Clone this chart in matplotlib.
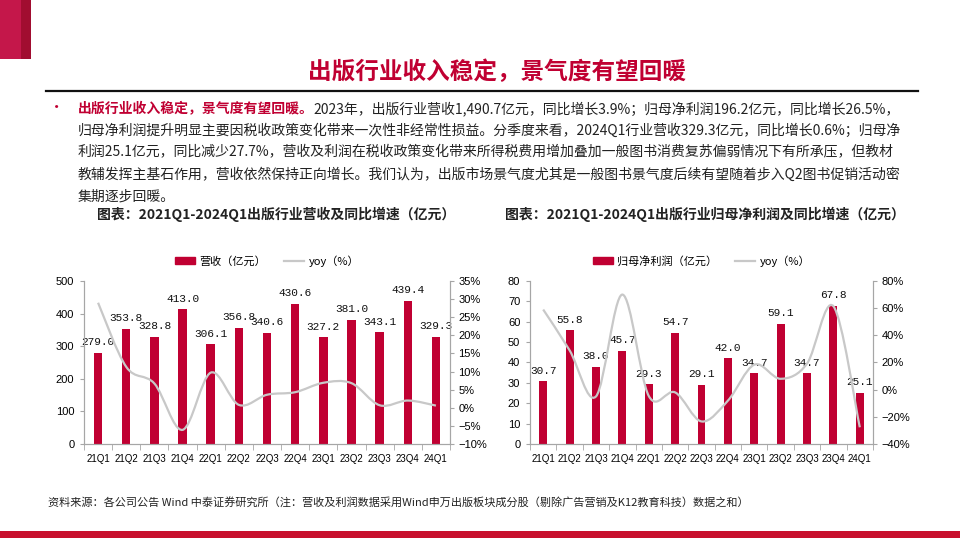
import matplotlib.pyplot as plt
from matplotlib.path import Path
from matplotlib.patches import PathPatch, Patch, Rectangle
from matplotlib.lines import Line2D
from matplotlib.ticker import FuncFormatter, MultipleLocator, FixedLocator

plt.rcParams['font.family'] = ['Noto Sans CJK SC', 'DejaVu Sans']

quarters = ['21Q1', '21Q2', '21Q3', '21Q4', '22Q1', '22Q2', '22Q3', '22Q4',
            '23Q1', '23Q2', '23Q3', '23Q4', '24Q1']
revenue = [279.0, 353.8, 328.8, 413.0, 306.1, 356.8, 340.6, 430.6, 327.2, 381.0, 343.1, 439.4, 329.3]
revenue_yoy = [29.0, 11.3, 6.7, -6.1, 9.7, 0.8, 3.6, 4.3, 6.9, 6.8, 0.7, 2.0, 0.6]
profit = [30.7, 55.8, 38.0, 45.7, 29.3, 54.7, 29.1, 42.0, 34.7, 59.1, 34.7, 67.8, 25.1]
profit_yoy = [59.0, 29.0, -5.0, 70.0, -4.6, -2.0, -23.4, -8.1, 18.4, 8.0, 19.2, 61.4, -27.7]

RED = '#c00032'
GREY = '#c8c8c8'
SPINE = '#a6a6a6'

fig = plt.figure(figsize=(9.6, 5.4), dpi=100)

# background axes in pixel coords for the page decoration
bg = fig.add_axes([0, 0, 1, 1])
bg.set_xlim(0, 960)
bg.set_ylim(540, 0)
bg.axis('off')

bg.add_patch(Rectangle((0, 0), 21, 59, color='#c4174a', lw=0))
bg.add_patch(Rectangle((21, 0), 10, 59, color='#a10d30', lw=0))
bg.add_patch(Rectangle((0, 531), 960, 7, color='#c8102e', lw=0))
bg.plot([46, 918], [91, 91], color='#111111', lw=1.6)

bg.text(497, 72, '出版行业收入稳定，景气度有望回暖', ha='center', va='center',
        fontsize=17, fontweight='bold', color=RED)

# paragraph
bg.text(57, 108, '•', ha='center', va='center', fontsize=11, color=RED)
t1 = bg.text(78, 109, '出版行业收入稳定，景气度有望回暖。', ha='left', va='center',
             fontsize=10, fontweight='bold', color=RED)
bg.annotate('2023年，出版行业营收1,490.7亿元，同比增长3.9%；归母净利润196.2亿元，同比增长26.5%，',
            xy=(1, 0.5), xycoords=t1, ha='left', va='center', fontsize=10, color='#222222')
para = [
    '归母净利润提升明显主要因税收政策变化带来一次性非经常性损益。分季度来看，2024Q1行业营收329.3亿元，同比增长0.6%；归母净',
    '利润25.1亿元，同比减少27.7%，营收及利润在税收政策变化带来所得税费用增加叠加一般图书消费复苏偏弱情况下有所承压，但教材',
    '教辅发挥主基石作用，营收依然保持正向增长。我们认为，出版市场景气度尤其是一般图书景气度后续有望随着步入Q2图书促销活动密',
    '集期逐步回暖。',
]
for i, line in enumerate(para):
    bg.text(78, 131 + i * 21.7, line, ha='left', va='center', fontsize=10, color='#222222')

bg.text(97, 214, '图表：2021Q1-2024Q1出版行业营收及同比增速（亿元）', ha='left', va='center',
        fontsize=10, fontweight='bold', color='#222222')
bg.text(505, 214, '图表：2021Q1-2024Q1出版行业归母净利润及同比增速（亿元）', ha='left', va='center',
        fontsize=10, fontweight='bold', color='#222222')

bg.text(48, 503, '资料来源：各公司公告 Wind 中泰证券研究所（注：营收及利润数据采用Wind申万出版板块成分股（剔除广告营销及K12教育科技）数据之和）',
        ha='left', va='center', fontsize=8, style='italic', color='#222222')


def smooth_line(ax, xs, ys, color, lw):
    pts = list(zip(xs, ys))
    n = len(pts)
    verts = [pts[0]]
    codes = [Path.MOVETO]
    for i in range(n - 1):
        p0 = pts[max(i - 1, 0)]
        p1 = pts[i]
        p2 = pts[i + 1]
        p3 = pts[min(i + 2, n - 1)]
        c1 = (p1[0] + (p2[0] - p0[0]) / 6, p1[1] + (p2[1] - p0[1]) / 6)
        c2 = (p2[0] - (p3[0] - p1[0]) / 6, p2[1] - (p3[1] - p1[1]) / 6)
        verts += [c1, c2, p2]
        codes += [Path.CURVE4] * 3
    ax.add_patch(PathPatch(Path(verts, codes), fill=False, edgecolor=color, lw=lw, zorder=3))


def pct(v, pos):
    return f'{v:.0f}%'.replace('-', '−')


def draw_chart(px_left, px_right, values, yoy, ymax, ystep, y2lim, y2step, bar_name):
    top, bottom = 281, 444
    ax = fig.add_axes([px_left / 960, 1 - bottom / 540, (px_right - px_left) / 960, (bottom - top) / 540])
    ax.set_facecolor('none')
    x = list(range(len(quarters)))
    ax.bar(x, values, width=0.3, color=RED, zorder=2)
    for xi, v in zip(x, values):
        ax.annotate(f'{v:.1f}', (xi, v), xytext=(0, 4), textcoords='offset points',
                    ha='center', va='bottom', fontsize=8, family='Liberation Mono', color='#111111')
    ax.set_xlim(-0.5, len(quarters) - 0.5)
    ax.set_ylim(0, ymax)
    ax.yaxis.set_major_locator(MultipleLocator(ystep))
    ax.set_xticks(x)
    ax.set_xticklabels(quarters, family='Liberation Sans', fontsize=7)
    ax.xaxis.set_minor_locator(FixedLocator([i - 0.5 for i in range(len(quarters) + 1)]))
    ax.tick_params(axis='x', which='major', length=0, pad=7)
    ax.tick_params(axis='x', which='minor', length=4, color=SPINE, direction='out')
    ax.tick_params(axis='y', length=3, color=SPINE, labelsize=8, pad=4)
    for lab in ax.get_yticklabels():
        lab.set_family('Liberation Sans')
    ax.spines['top'].set_visible(False)
    for s in ('left', 'right', 'bottom'):
        ax.spines[s].set_color(SPINE)

    ax2 = ax.twinx()
    ax2.set_ylim(*y2lim)
    ax2.yaxis.set_major_locator(MultipleLocator(y2step))
    ax2.yaxis.set_major_formatter(FuncFormatter(pct))
    ax2.tick_params(axis='y', length=3, color=SPINE, labelsize=8, pad=3)
    for lab in ax2.get_yticklabels():
        lab.set_family('Liberation Sans')
    ax2.spines['top'].set_visible(False)
    for s in ('left', 'right', 'bottom'):
        ax2.spines[s].set_color(SPINE)
    smooth_line(ax2, x, yoy, GREY, 1.6)

    handles = [Patch(color=RED), Line2D([], [], color=GREY, lw=1.6)]
    fig.legend(handles, [bar_name, 'yoy（%）'], loc='center', ncol=2, frameon=False,
               bbox_to_anchor=((px_left + px_right) / 2 / 960, 1 - 261 / 540),
               fontsize=8, handlelength=1.8, handleheight=0.6, handletextpad=0.4,
               columnspacing=1.6)


draw_chart(84, 450, revenue, revenue_yoy, 500, 100, (-10, 35), 5, '营收（亿元）')
draw_chart(530, 873, profit, profit_yoy, 80, 10, (-40, 80), 20, '归母净利润（亿元）')

fig.savefig('out.png', dpi=100)
